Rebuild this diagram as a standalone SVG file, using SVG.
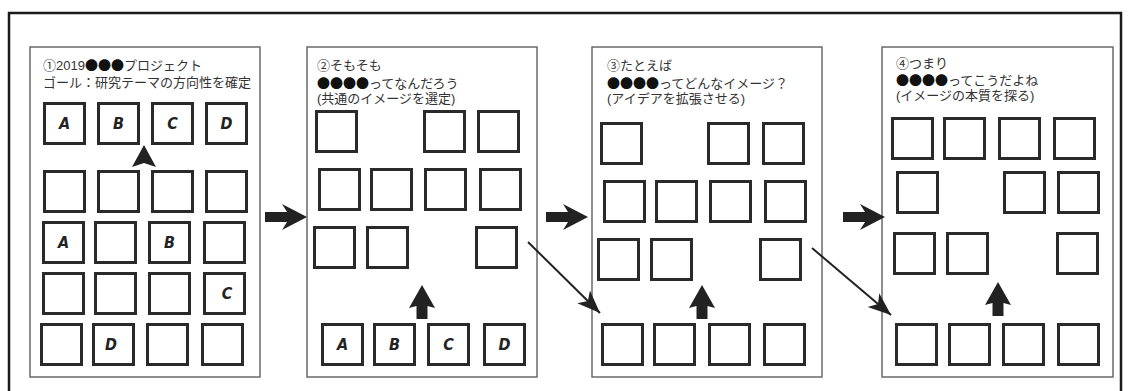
<svg xmlns="http://www.w3.org/2000/svg" xmlns:xlink="http://www.w3.org/1999/xlink" width="1131" height="391" viewBox="0 0 1131 391">
<style>
.frame{fill:none;stroke:#1a1a1a;stroke-width:2.5}
.panel{fill:#fff;stroke:#6a6a6a;stroke-width:1.5}
.sq{fill:#fff;stroke:#2a2a2a;stroke-width:3}
.t{font-family:"Liberation Sans","Noto Sans CJK JP",sans-serif;font-size:13px;fill:#333}
.c{font-family:"Noto Sans CJK JP",sans-serif;fill:#111}
.lb{font-family:"DejaVu Sans Condensed","DejaVu Sans",sans-serif;font-weight:bold;font-style:italic;font-size:16px;fill:#222;text-anchor:middle}
.ar{fill:#222}
.dl{stroke:#222;stroke-width:2;fill:none}
</style>
<defs>
<path id="harrow" d="M0,-5 H22 L17,-13 L42,0 L17,13 L22,5 H0 Z"/>
<path id="uarrow" d="M0,0 L13,23 L5.5,21 V34 H-5.5 V21 L-13,23 Z"/>
<marker id="ah" markerUnits="userSpaceOnUse" markerWidth="26" markerHeight="22" refX="23" refY="10" orient="auto">
<path d="M0,1 L23,10 L0,19 L6,10 Z" fill="#222"/>
</marker>
</defs>
<rect width="1131" height="391" fill="#fff"/>
<rect class="frame" x="9" y="13" width="1112" height="395"/>

<g id="panel1">
<rect class="panel" x="30" y="47" width="230" height="330"/>
<text class="t" x="43" y="70">①2019<tspan class="c">●●●</tspan>プロジェクト</text>
<text class="t" x="43" y="87">ゴール：研究テーマの方向性を確定</text>
<rect class="sq" x="44.5" y="103.5" width="40" height="40"/><text class="lb" x="64.5" y="129">A</text>
<rect class="sq" x="98.5" y="103.5" width="40" height="40"/><text class="lb" x="118.5" y="129">B</text>
<rect class="sq" x="152.5" y="103.5" width="40" height="40"/><text class="lb" x="172.5" y="129">C</text>
<rect class="sq" x="206.5" y="103.5" width="40" height="40"/><text class="lb" x="226.5" y="129">D</text>
<rect class="sq" x="44.5" y="171.5" width="40" height="40"/>
<rect class="sq" x="98.5" y="171.5" width="40" height="40"/>
<rect class="sq" x="152.5" y="171.5" width="40" height="40"/>
<rect class="sq" x="206.5" y="171.5" width="40" height="40"/>
<rect class="sq" x="43.5" y="222.5" width="40" height="40"/><text class="lb" x="63.5" y="248">A</text>
<rect class="sq" x="95.5" y="222.5" width="40" height="40"/>
<rect class="sq" x="149.5" y="222.5" width="40" height="40"/><text class="lb" x="169.5" y="248">B</text>
<rect class="sq" x="204.5" y="222.5" width="40" height="40"/>
<rect class="sq" x="43.5" y="273.5" width="40" height="40"/>
<rect class="sq" x="95.5" y="273.5" width="40" height="40"/>
<rect class="sq" x="149.5" y="273.5" width="40" height="40"/>
<rect class="sq" x="204.5" y="273.5" width="40" height="40"/><text class="lb" x="227" y="299">C</text>
<rect class="sq" x="41.5" y="324.5" width="40" height="40"/>
<rect class="sq" x="93.5" y="324.5" width="40" height="40"/><text class="lb" x="111" y="350">D</text>
<rect class="sq" x="147.5" y="324.5" width="40" height="40"/>
<rect class="sq" x="202.5" y="324.5" width="40" height="40"/>
<path class="ar" d="M144,145 L156,167 L144,163 L132,167 Z"/>
</g>

<g id="panel2">
<rect class="panel" x="307" y="47" width="230" height="330"/>
<text class="t" x="317" y="70">②そもそも</text>
<text class="t" x="317" y="88"><tspan class="c">●●●●</tspan>ってなんだろう</text>
<text class="t" x="317" y="103">(共通のイメージを選定)</text>
<rect class="sq" x="316.5" y="111.5" width="40" height="40"/>
<rect class="sq" x="424.5" y="111.5" width="40" height="40"/>
<rect class="sq" x="478.5" y="111.5" width="40" height="40"/>
<rect class="sq" x="319.5" y="169.5" width="40" height="40"/>
<rect class="sq" x="371.5" y="169.5" width="40" height="40"/>
<rect class="sq" x="425.5" y="169.5" width="40" height="40"/>
<rect class="sq" x="480.5" y="169.5" width="40" height="40"/>
<rect class="sq" x="314.5" y="227.5" width="40" height="40"/>
<rect class="sq" x="367.5" y="227.5" width="40" height="40"/>
<rect class="sq" x="476.5" y="227.5" width="40" height="40"/>
<rect class="sq" x="322.5" y="324.5" width="40" height="40"/><text class="lb" x="342.5" y="350">A</text>
<rect class="sq" x="374.5" y="324.5" width="40" height="40"/><text class="lb" x="394.5" y="350">B</text>
<rect class="sq" x="428.5" y="324.5" width="40" height="40"/><text class="lb" x="448.5" y="350">C</text>
<rect class="sq" x="484.5" y="324.5" width="40" height="40"/><text class="lb" x="504.5" y="350">D</text>
<use href="#uarrow" class="ar" x="422" y="285"/>
</g>

<g id="panel3">
<rect class="panel" x="592" y="47" width="230" height="330"/>
<text class="t" x="607" y="70">③たとえば</text>
<text class="t" x="607" y="88"><tspan class="c">●●●●</tspan>ってどんなイメージ？</text>
<text class="t" x="607" y="103">(アイデアを拡張させる)</text>
<rect class="sq" x="601.5" y="123.5" width="40" height="40"/>
<rect class="sq" x="708.5" y="123.5" width="40" height="40"/>
<rect class="sq" x="763.5" y="123.5" width="40" height="40"/>
<rect class="sq" x="604.5" y="181.5" width="40" height="40"/>
<rect class="sq" x="656.5" y="181.5" width="40" height="40"/>
<rect class="sq" x="710.5" y="181.5" width="40" height="40"/>
<rect class="sq" x="765.5" y="181.5" width="40" height="40"/>
<rect class="sq" x="598.5" y="239.5" width="40" height="40"/>
<rect class="sq" x="651.5" y="239.5" width="40" height="40"/>
<rect class="sq" x="760.5" y="239.5" width="40" height="40"/>
<rect class="sq" x="602.5" y="324.5" width="40" height="40"/>
<rect class="sq" x="654.5" y="324.5" width="40" height="40"/>
<rect class="sq" x="709.5" y="324.5" width="40" height="40"/>
<rect class="sq" x="764.5" y="324.5" width="40" height="40"/>
<use href="#uarrow" class="ar" x="702" y="285"/>
</g>

<g id="panel4">
<rect class="panel" x="882" y="47" width="231" height="330"/>
<text class="t" x="896" y="68">④つまり</text>
<text class="t" x="896" y="85"><tspan class="c">●●●●</tspan>ってこうだよね</text>
<text class="t" x="896" y="100">(イメージの本質を探る)</text>
<rect class="sq" x="892.5" y="118.5" width="40" height="40"/>
<rect class="sq" x="944.5" y="118.5" width="40" height="40"/>
<rect class="sq" x="999.5" y="118.5" width="40" height="40"/>
<rect class="sq" x="1054.5" y="118.5" width="40" height="40"/>
<rect class="sq" x="897.5" y="172.5" width="40" height="40"/>
<rect class="sq" x="1004.5" y="172.5" width="40" height="40"/>
<rect class="sq" x="1058.5" y="172.5" width="40" height="40"/>
<rect class="sq" x="894.5" y="233.5" width="40" height="40"/>
<rect class="sq" x="947.5" y="233.5" width="40" height="40"/>
<rect class="sq" x="1057.5" y="233.5" width="40" height="40"/>
<rect class="sq" x="896.5" y="324.5" width="40" height="40"/>
<rect class="sq" x="949.5" y="324.5" width="40" height="40"/>
<rect class="sq" x="1003.5" y="324.5" width="40" height="40"/>
<rect class="sq" x="1058.5" y="324.5" width="40" height="40"/>
<use href="#uarrow" class="ar" x="998" y="282"/>
</g>

<g id="connectors">
<use href="#harrow" class="ar" x="265" y="217"/>
<use href="#harrow" class="ar" x="546" y="217"/>
<use href="#harrow" class="ar" x="843" y="217"/>
<line class="dl" x1="528" y1="242" x2="600" y2="313" marker-end="url(#ah)"/>
<line class="dl" x1="812" y1="248" x2="891" y2="315" marker-end="url(#ah)"/>
</g>
</svg>
